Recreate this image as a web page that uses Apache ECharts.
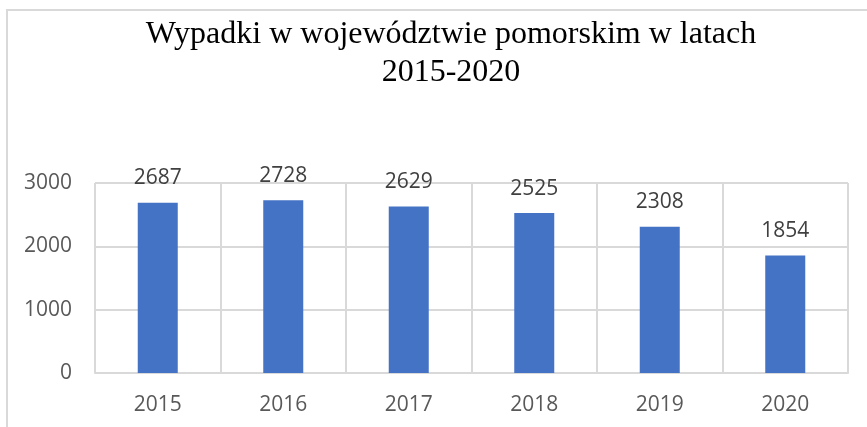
<!DOCTYPE html>
<html>
<head>
<meta charset="utf-8">
<script src="https://cdn.jsdelivr.net/npm/echarts@6/dist/echarts.min.js"></script>
<style>
  html, body { margin: 0; padding: 0; background: #fff; }
  #chart { width: 867px; height: 427px; }
</style>
</head>
<body>
<div id="chart"></div>
<script>
var years = ['2015', '2016', '2017', '2018', '2019', '2020']
var accidents = [2687, 2728, 2629, 2525, 2308, 1854]
var titleText = 'Wypadki w województwie pomorskim w latach\n2015-2020'

var chart = echarts.init(document.getElementById('chart'))
chart.setOption({
  backgroundColor: '#fff',
  animation: false,
  graphic: [{
    type: 'polyline',
    shape: { points: [[7, 427], [7, 10], [867, 10]] },
    style: { stroke: '#d9d9d9', lineWidth: 2, fill: null }
  }],
  title: {
    text: titleText,
    left: 446,
    top: 11,
    textAlign: 'center',
    textStyle: {
      fontFamily: 'Liberation Serif',
      fontWeight: 'normal',
      fontSize: 32,
      lineHeight: 38,
      color: '#000'
    }
  },
  grid: {
    left: 95,
    right: 19,
    top: 183,
    bottom: 54
  },
  xAxis: {
    type: 'category',
    data: years,
    boundaryGap: true,
    axisTick: { show: false },
    axisLine: { lineStyle: { color: '#d9d9d9', width: 2 } },
    splitLine: {
      show: true,
      interval: 0,
      lineStyle: { color: '#d9d9d9', width: 2 }
    },
    axisLabel: {
      margin: 22,
      fontSize: 21,
      fontFamily: 'Open Sans',
      color: '#595959'
    }
  },
  yAxis: {
    type: 'value',
    min: 0,
    max: 3000,
    interval: 1000,
    axisLine: { show: false },
    axisTick: { show: false },
    splitLine: { lineStyle: { color: '#d9d9d9', width: 2 } },
    axisLabel: {
      margin: 23,
      fontSize: 21,
      fontFamily: 'Open Sans',
      color: '#595959',
      formatter: function(v) { return String(v) }
    }
  },
  series: [{
    type: 'bar',
    data: accidents,
    barWidth: 40,
    itemStyle: { color: '#4472c4' },
    label: {
      show: true,
      position: 'top',
      distance: 14,
      fontSize: 21,
      fontFamily: 'Open Sans',
      color: '#404040'
    }
  }]
})
</script>
</body>
</html>
